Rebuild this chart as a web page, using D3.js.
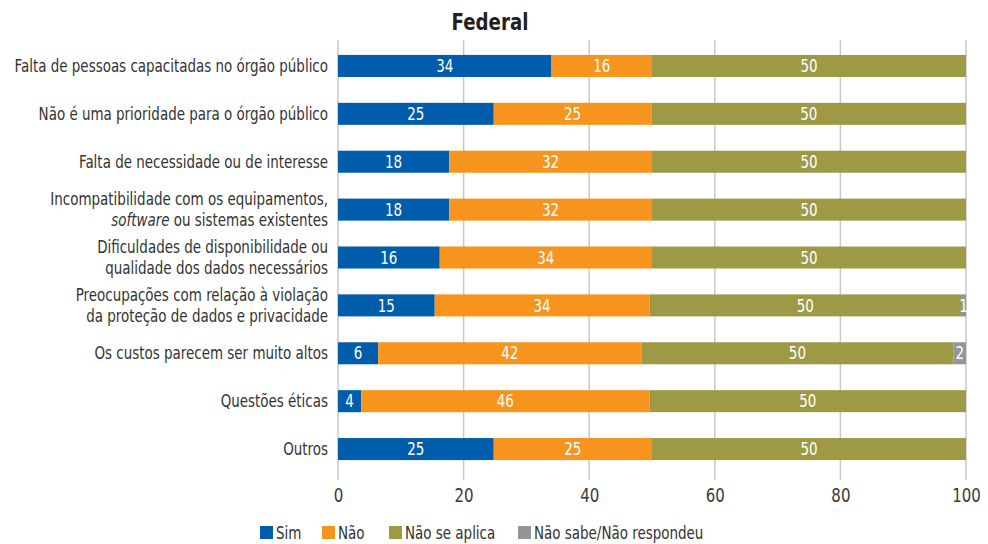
<!DOCTYPE html>
<html>
<head>
<meta charset="utf-8">
<script src="https://cdn.jsdelivr.net/npm/d3@7"></script>
<style>
  body { margin: 0; background: #fff; }
  svg text { font-family: "DejaVu Sans Condensed", "DejaVu Sans", sans-serif; font-stretch: condensed; }
</style>
</head>
<body>
<svg id="chart" width="988" height="544"></svg>
<script>
// categories (each line of a label is one entry)
const categories = [
    ['Falta de pessoas capacitadas no órgão público'],
    ['Não é uma prioridade para o órgão público'],
    ['Falta de necessidade ou de interesse'],
    ['Incompatibilidade com os equipamentos,', '<i>software</i> ou sistemas existentes'],
    ['Dificuldades de disponibilidade ou', 'qualidade dos dados necessários'],
    ['Preocupações com relação à violação', 'da proteção de dados e privacidade'],
    ['Os custos parecem ser muito altos'],
    ['Questões éticas'],
    ['Outros']
];

const seriesNames = ['Sim', 'Não', 'Não se aplica', 'Não sabe/Não respondeu'];
const seriesColors = ['#005dab', '#f7941e', '#9e9945', '#939598'];

// values per series, same order as categories
const sim        = [34.0, 24.8, 17.7, 17.7, 16.2, 15.4, 6.4, 3.7, 24.8];
const nao        = [16.0, 25.1, 32.3, 32.3, 33.8, 34.2, 41.9, 45.9, 25.2];
const naoAplica  = [50.0, 50.1, 50.0, 50.0, 50.0, 49.6, 49.7, 50.4, 50.0];
const naoSabe    = [0, 0, 0, 0, 0, 0.8, 2.0, 0, 0];

const xTicks = [0, 20, 40, 60, 80, 100];

// horizontal squeeze to get closer to the narrow face of the original
const SQ = 0.88;

document.addEventListener('DOMContentLoaded', function() {
    const svg = d3.select('#chart');

    const x = d3.scaleLinear()
        .domain([0, 100])
        .range([338, 966]);

    const y = d3.scaleBand()
        .domain(d3.range(categories.length))
        .range([42, 473])
        .paddingInner(0.54)
        .paddingOuter(0.27);

    // Title
    svg.append('text')
        .attr('transform', `translate(490, 30) scale(${SQ}, 1)`)
        .attr('text-anchor', 'middle')
        .style('font-size', '23px')
        .style('font-weight', 'bold')
        .style('fill', '#231f20')
        .text('Federal');

    // Gridlines
    svg.append('g')
        .selectAll('line')
        .data(xTicks)
        .enter()
        .append('line')
        .attr('x1', d => x(d))
        .attr('x2', d => x(d))
        .attr('y1', 40)
        .attr('y2', 480)
        .attr('stroke', '#c8c8c8')
        .attr('stroke-width', 1.5);

    // Tick labels
    const axis = svg.append('g')
        .attr('transform', 'translate(0, 480)')
        .call(d3.axisBottom(x).tickValues(xTicks).tickSize(0).tickPadding(9));
    axis.select('.domain').remove();
    axis.selectAll('text')
        .attr('transform', `scale(${SQ}, 1)`)
        .style('font-size', '19px')
        .style('fill', '#3a3a3a')
        .style('font-family', '"DejaVu Sans Condensed", "DejaVu Sans", sans-serif');

    // Stack the series
    const rows = categories.map((c, i) => ({
        i: i, s0: sim[i], s1: nao[i], s2: naoAplica[i], s3: naoSabe[i]
    }));
    const stacked = d3.stack().keys(['s0', 's1', 's2', 's3'])(rows);

    const layer = svg.append('g')
        .selectAll('g')
        .data(stacked)
        .enter()
        .append('g')
        .attr('fill', (d, k) => seriesColors[k]);

    layer.selectAll('rect')
        .data(d => d)
        .enter()
        .append('rect')
        .attr('x', d => x(d[0]))
        .attr('y', d => y(d.data.i))
        .attr('width', d => x(d[1]) - x(d[0]))
        .attr('height', y.bandwidth());

    // Value labels
    layer.selectAll('text')
        .data(d => d.filter(p => p[1] - p[0] > 0))
        .enter()
        .append('text')
        .attr('transform', d => `translate(${(x(d[0]) + x(d[1])) / 2}, ${y(d.data.i) + y.bandwidth() / 2}) scale(${SQ}, 1)`)
        .attr('dy', '0.36em')
        .attr('text-anchor', 'middle')
        .style('font-size', '17px')
        .style('fill', '#fff')
        .text(d => Math.round(d[1] - d[0]));

    // Category labels
    const catGroup = svg.append('g');
    categories.forEach((lines, i) => {
        const cy = y(i) + y.bandwidth() / 2;
        const t = catGroup.append('text')
            .attr('transform', `translate(328, ${cy - (lines.length - 1) * 10.5}) scale(${SQ}, 1)`)
            .attr('dy', '0.36em')
            .attr('text-anchor', 'end')
            .style('font-size', '17px')
            .style('fill', '#333');
        lines.forEach((line, j) => {
            const tspan = t.append('tspan')
                .attr('x', 0)
                .attr('dy', j === 0 ? null : 21);
            const m = line.match(/^<i>(.*)<\/i>(.*)$/);
            if (m) {
                tspan.append('tspan').style('font-style', 'italic').text(m[1]);
                tspan.append('tspan').text(m[2]);
            } else {
                tspan.text(line);
            }
        });
    });

    // Legend
    const legendX = [260, 322, 389, 518];
    const legend = svg.append('g')
        .selectAll('g')
        .data(seriesNames)
        .enter()
        .append('g')
        .attr('transform', (d, k) => `translate(${legendX[k]}, 526)`);

    legend.append('rect')
        .attr('width', 13)
        .attr('height', 13)
        .attr('fill', (d, k) => seriesColors[k]);

    legend.append('text')
        .attr('transform', `translate(16, 7) scale(${SQ}, 1)`)
        .attr('dy', '0.34em')
        .style('font-size', '17px')
        .style('fill', '#333')
        .text(d => d);
});
</script>
</body>
</html>
